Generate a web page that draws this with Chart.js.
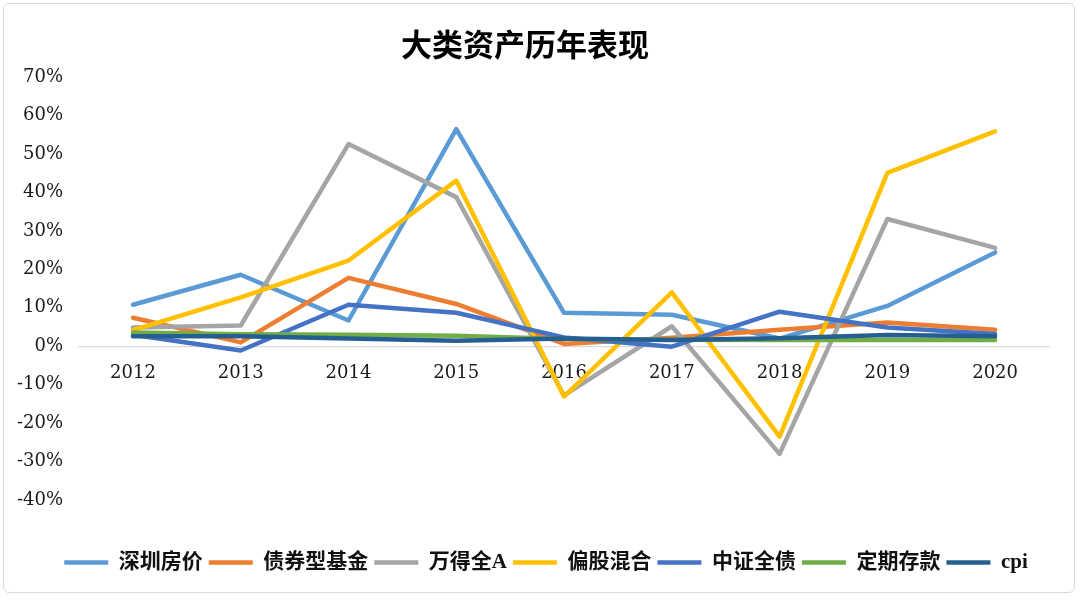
<!DOCTYPE html>
<html>
<head>
<meta charset="utf-8">
<script src="https://cdn.jsdelivr.net/npm/chart.js@4"></script>
<style>
  body { margin: 0; background: #fff; }
  #wrap { position: relative; width: 1080px; height: 600px; }
  #frame { position: absolute; left: 3px; top: 3px; width: 1070px; height: 588px;
           border: 1px solid #d9d9d9; border-radius: 6px; pointer-events: none; }
</style>
</head>
<body>
<div id="wrap">
  <canvas id="chart" width="1080" height="600"></canvas>
  <div id="frame"></div>
</div>
<script>
const years = ["2012", "2013", "2014", "2015", "2016", "2017", "2018", "2019", "2020"];

const szHouse  = [10.8, 18.6, 6.7, 56.5, 8.7, 8.2, 2.0, 10.5, 24.4];
const bondFund = [7.4, 1.0, 17.8, 11.0, 0.6, 2.2, 4.3, 6.2, 4.3];
const windA    = [4.9, 5.4, 52.6, 38.8, -12.8, 5.2, -28.0, 33.1, 25.6];
const mixFund  = [4.2, 12.7, 22.3, 43.1, -13.1, 14.0, -23.5, 45.1, 55.9];
const csiBond  = [3.0, -1.1, 10.8, 8.7, 2.3, -0.1, 9.0, 4.9, 3.2];
const deposit  = [3.6, 3.1, 3.0, 2.75, 1.9, 1.7, 1.6, 1.6, 1.6];
const cpi      = [2.6, 2.6, 2.0, 1.4, 2.0, 1.6, 2.1, 2.9, 2.6];

const names  = ["深圳房价", "债券型基金", "万得全A", "偏股混合", "中证全债", "定期存款", "cpi"];
const series = [szHouse, bondFund, windA, mixFund, csiBond, deposit, cpi];
const colors = ["#5b9bd5", "#ed7d31", "#a5a5a5", "#ffc000", "#4472c4", "#70ad47", "#255e91"];

const yMin = -40, yMax = 70, yStep = 10;

const tickFont = { family: "'DejaVu Serif', 'Liberation Serif', serif", size: 18 };

// nudge the legend row to the right, as in the excel original
const legendShift = {
  id: "legendShift",
  afterLayout(chart) {
    chart.legend.left += 21;
    chart.legend.right += 21;
  }
};

new Chart(document.getElementById("chart"), {
  type: "line",
  data: {
    labels: years,
    datasets: series.map((d, i) => ({
      label: names[i],
      data: d,
      borderColor: colors[i],
      backgroundColor: colors[i],
      borderWidth: 4.5,
      pointRadius: 0,
      tension: 0,
      fill: false,
      borderJoinStyle: "round",
      borderCapStyle: "round",
      order: series.length - i
    }))
  },
  options: {
    responsive: false,
    animation: false,
    layout: { padding: { left: 1, right: 31, top: 0, bottom: 17 } },
    plugins: {
      tooltip: { enabled: false },
      title: {
        display: true,
        text: "大类资产历年表现",
        color: "#000",
        font: { family: "'Noto Sans CJK SC', sans-serif", size: 31, weight: "bold" },
        padding: { top: 26, bottom: 14 }
      },
      legend: {
        position: "bottom",
        title: { display: true, text: "", font: { size: 10 }, padding: { top: 34, bottom: 0 } },
        labels: {
          usePointStyle: true,
          pointStyle: "line",
          pointStyleWidth: 44,
          padding: 6,
          color: "#111",
          font: { family: "'Liberation Serif', 'Noto Sans CJK SC', serif", size: 21, weight: "bold" },
          sort: (a, b) => a.datasetIndex - b.datasetIndex
        }
      }
    },
    scales: {
      x: {
        position: { y: 0 },
        offset: true,
        grid: { display: false, drawTicks: false },
        border: { color: "#d9d9d9", width: 1.3 },
        ticks: { color: "#1a1a1a", font: tickFont, padding: 16, maxRotation: 0 }
      },
      y: {
        min: yMin,
        max: yMax,
        grid: { display: false, drawTicks: false },
        border: { display: false },
        ticks: {
          stepSize: yStep,
          color: "#1a1a1a",
          font: tickFont,
          padding: 16,
          callback: v => v + "%"
        }
      }
    }
  },
  plugins: [legendShift]
});
</script>
</body>
</html>
